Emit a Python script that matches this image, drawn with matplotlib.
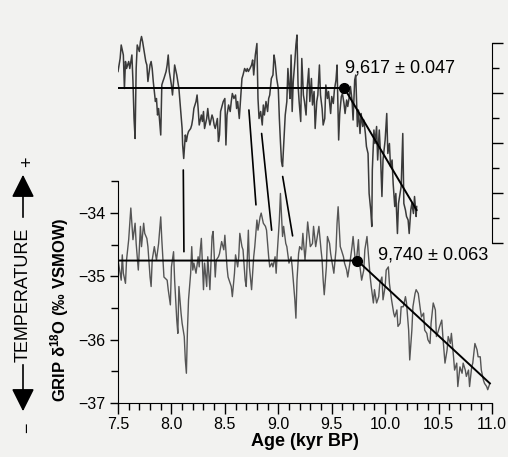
import matplotlib
matplotlib.use("Agg")
import matplotlib.pyplot as plt
from matplotlib.patches import ConnectionPatch, FancyArrowPatch
from matplotlib.ticker import MultipleLocator, FixedLocator, FormatStrFormatter

# GRIP record (lower curve), age in kyr BP, d18O in permil
low_age = [7.50, 7.53, 7.54, 7.55, 7.57, 7.58, 7.60, 7.62, 7.64, 7.66, 7.67, 7.69, 7.71, 7.72, 7.74,
           7.75, 7.77, 7.78, 7.80, 7.81, 7.82, 7.84, 7.86, 7.88, 7.90, 7.91, 7.93, 7.96, 7.97, 7.99,
           8.00, 8.02, 8.03, 8.05, 8.06, 8.07, 8.09, 8.10, 8.12, 8.13, 8.14, 8.15, 8.16, 8.18, 8.19,
           8.20, 8.21, 8.23, 8.25, 8.26, 8.27, 8.28, 8.30, 8.31, 8.33, 8.34, 8.36, 8.38, 8.39, 8.41,
           8.42, 8.44, 8.45, 8.47, 8.49, 8.50, 8.52, 8.53, 8.55, 8.56, 8.57, 8.59, 8.60, 8.62,
           8.63, 8.64, 8.66, 8.67, 8.69, 8.70, 8.72, 8.73, 8.75, 8.77, 8.78, 8.80, 8.81, 8.83, 8.84,
           8.86, 8.88, 8.89, 8.91, 8.92, 8.94, 8.95, 8.97, 8.98, 8.99, 9.01, 9.02, 9.04, 9.05, 9.07,
           9.08, 9.10, 9.12, 9.13, 9.14, 9.155, 9.165, 9.175, 9.19, 9.20, 9.22, 9.23, 9.25, 9.26, 9.275,
           9.29, 9.30, 9.32, 9.33, 9.35, 9.36, 9.38, 9.40, 9.41, 9.42, 9.43, 9.45, 9.46, 9.48, 9.49,
           9.51, 9.52, 9.54, 9.55, 9.56, 9.58, 9.59, 9.61, 9.62, 9.64, 9.65, 9.67, 9.69, 9.70, 9.72,
           9.73, 9.75, 9.76, 9.78, 9.80, 9.81, 9.83, 9.84, 9.86, 9.87, 9.89, 9.90, 9.92, 9.94, 9.95,
           9.97, 9.98, 10.00, 10.01, 10.03, 10.04, 10.06, 10.08, 10.09, 10.11, 10.12, 10.14, 10.15, 10.17, 10.19,
           10.20, 10.22, 10.23, 10.25, 10.26, 10.28, 10.29, 10.31, 10.33, 10.34, 10.36, 10.37, 10.39, 10.40, 10.42,
           10.43, 10.45, 10.47, 10.48, 10.50, 10.51, 10.53, 10.54, 10.56, 10.58, 10.59, 10.61, 10.62, 10.64, 10.65,
           10.67, 10.68, 10.70, 10.72, 10.73, 10.75, 10.76, 10.78, 10.79, 10.81, 10.82, 10.84, 10.86, 10.87, 10.89,
           10.90, 10.92, 10.93, 10.95, 10.96, 10.98]
low_d18o = [-34.74, -35.06, -34.66, -34.95, -35.11, -34.74, -34.42, -33.92, -34.42, -34.16, -34.48, -34.90, -34.21, -34.53, -34.16,
            -34.32, -34.40, -34.53, -35.01, -35.16, -34.74, -34.53, -34.74, -34.48, -34.06, -34.42, -35.01, -35.06, -35.21, -35.45,
            -34.85, -34.61, -35.06, -35.69, -35.90, -35.16, -35.58, -35.74, -35.95, -36.32, -36.53, -35.85, -35.37, -34.95, -34.53,
            -34.90, -34.79, -34.95, -34.69, -34.85, -34.58, -34.40, -35.21, -34.79, -35.16, -34.69, -35.21, -34.37, -34.29, -35.01,
            -34.74, -34.69, -34.64, -34.45, -34.58, -34.35, -34.85, -35.01, -35.11, -35.16, -35.32, -34.95, -34.66, -34.85,
            -34.69, -34.32, -34.53, -34.58, -35.06, -35.16, -34.27, -34.85, -35.21, -34.69, -34.53, -34.11, -34.27, -34.06, -34.00,
            -34.16, -34.21, -34.27, -34.69, -34.85, -34.79, -34.85, -34.69, -34.95, -34.64, -34.11, -33.69, -34.37, -34.21, -34.48,
            -34.53, -34.79, -34.69, -34.85, -35.06, -35.37, -35.66, -35.06, -34.64, -34.53, -34.58, -34.32, -34.74, -34.53, -34.14,
            -34.37, -34.53, -34.48, -34.21, -34.53, -34.42, -34.21, -34.58, -34.74, -35.06, -35.29, -34.85, -34.37, -34.48, -34.64,
            -34.85, -34.95, -34.58, -34.16, -33.90, -34.53, -34.58, -34.69, -34.79, -34.90, -35.01, -34.79, -34.53, -34.37, -34.74,
            -34.77, -34.42, -34.79, -35.06, -34.90, -34.58, -34.37, -34.58, -35.01, -35.16, -35.42, -35.21, -35.42, -35.32, -35.11,
            -35.01, -35.37, -35.16, -34.90, -34.85, -35.11, -35.37, -35.58, -35.64, -35.53, -35.79, -35.74, -35.48, -35.48, -35.32,
            -35.42, -35.85, -36.32, -35.85, -35.48, -35.27, -35.21, -35.27, -35.53, -35.64, -35.58, -35.85, -35.90, -36.00, -36.06,
            -35.74, -35.42, -35.53, -35.95, -35.85, -35.79, -35.69, -35.95, -36.37, -36.16, -35.95, -36.06, -35.90, -36.27, -36.48,
            -36.37, -36.74, -36.43, -36.53, -36.37, -36.48, -36.58, -36.48, -36.74, -36.43, -36.37, -36.06, -36.16, -36.27, -36.27,
            -36.48, -36.64, -36.69, -36.74, -36.79, -36.69]

# upper record (right axis, its labels are cut off in the original)
up_age = [7.50, 7.52, 7.53, 7.55, 7.56, 7.57, 7.58, 7.60, 7.61, 7.63, 7.64, 7.65, 7.66, 7.67, 7.68,
          7.70, 7.71, 7.72, 7.73, 7.75, 7.76, 7.77, 7.78, 7.80, 7.81, 7.82, 7.83, 7.85, 7.86, 7.87,
          7.88, 7.90, 7.91, 7.92, 7.93, 7.95, 7.96, 7.97, 7.98, 8.00, 8.01, 8.02, 8.03, 8.05, 8.06,
          8.07, 8.08, 8.10, 8.105, 8.115, 8.13, 8.14, 8.15, 8.16, 8.18, 8.19, 8.20, 8.21, 8.23, 8.24,
          8.25, 8.26, 8.28, 8.29, 8.30, 8.31, 8.33, 8.34, 8.35, 8.36, 8.38, 8.39, 8.40, 8.41, 8.43,
          8.44, 8.45, 8.46,
          8.485, 8.50, 8.51, 8.52, 8.535, 8.55, 8.56, 8.57, 8.585, 8.60, 8.61, 8.62, 8.635, 8.65, 8.66,
          8.67, 8.685, 8.70, 8.71, 8.72, 8.735, 8.75, 8.76, 8.77, 8.785, 8.80, 8.81, 8.82, 8.835, 8.85,
          8.86, 8.87, 8.885, 8.90, 8.91, 8.92, 8.935, 8.95, 8.96, 8.97, 8.985, 9.00, 9.01, 9.02, 9.03,
          9.04, 9.055, 9.065, 9.08, 9.09, 9.10, 9.11, 9.12, 9.13, 9.14, 9.155, 9.165, 9.175, 9.185, 9.195,
          9.21, 9.22, 9.235, 9.245, 9.26, 9.27, 9.285, 9.295, 9.31, 9.32, 9.335, 9.345, 9.36, 9.37, 9.385,
          9.395, 9.41, 9.42, 9.435, 9.445, 9.46, 9.47,
          9.49, 9.50, 9.515, 9.525, 9.54, 9.55, 9.565, 9.575, 9.59, 9.60, 9.615, 9.625, 9.64, 9.65, 9.665,
          9.675, 9.69, 9.70, 9.715, 9.725, 9.74, 9.75, 9.765, 9.775, 9.79, 9.80, 9.815, 9.825, 9.84, 9.85,
          9.865, 9.875, 9.88, 9.895, 9.905, 9.92, 9.93, 9.945, 9.955, 9.97, 9.98, 10.00, 10.015, 10.025, 10.04,
          10.05, 10.065, 10.075, 10.09, 10.10, 10.115, 10.125, 10.14, 10.15, 10.165, 10.175, 10.19, 10.20, 10.215, 10.225,
          10.24, 10.25, 10.265, 10.275, 10.29, 10.295]
up_val = [-34.57, -34.31, -34.04, -34.24, -34.91, -34.37, -34.51, -34.37, -34.51, -34.24, -34.77, -35.51, -35.91, -34.51, -34.04,
          -34.17, -33.97, -33.87, -33.97, -34.24, -34.37, -34.44, -34.77, -34.44, -34.37, -34.51, -34.77, -35.17, -35.11, -35.44,
          -35.31, -35.84, -34.84, -34.77, -34.71, -34.57, -34.44, -34.24, -34.57, -34.84, -35.04, -34.77, -34.44, -34.64, -34.77,
          -34.91, -35.17, -35.71, -36.04, -36.31, -35.84, -35.97, -35.84, -35.77, -35.71, -35.64, -35.51, -35.31, -35.17, -35.04,
          -35.31, -35.64, -35.44, -35.57, -35.37, -35.71, -35.51, -35.31, -35.51, -35.64, -35.44, -35.51, -35.64, -35.71, -35.51,
          -35.97, -35.84, -35.37,
          -35.17, -35.11, -36.04, -35.44, -35.24, -35.37, -35.17, -35.01, -35.11, -35.04, -35.31, -35.17, -35.51, -35.04, -34.71,
          -34.64, -34.51, -34.57, -34.51, -34.57, -34.51, -34.44, -34.34, -34.64, -34.24, -34.01, -35.11, -35.51, -35.37, -35.64,
          -35.24, -35.44, -35.17, -35.37, -35.11, -35.04, -34.71, -34.64, -34.24, -34.37, -34.71, -34.91, -35.51, -35.97, -36.37,
          -36.47, -35.84, -35.44, -35.17, -34.51, -34.84, -35.11, -34.24, -35.37, -34.77, -34.37, -34.04, -33.84, -34.84, -35.17,
          -35.57, -34.31, -35.04, -35.17, -35.44, -34.91, -34.51, -35.17, -34.71, -35.24, -34.97, -35.71, -35.17, -35.04, -34.44,
          -35.04, -35.31, -35.64, -35.51, -34.84, -35.11, -34.97,
          -35.41, -35.07, -35.21, -34.94, -34.74, -34.44, -35.94, -35.41, -35.07, -35.01, -35.21, -35.41, -35.14, -35.27, -35.07,
          -34.87, -35.14, -35.54, -34.74, -34.64, -35.67, -35.34, -35.81, -35.41, -35.67, -35.54, -35.81, -36.07, -36.21, -37.01,
          -37.34, -37.67, -36.54, -35.74, -36.01, -35.67, -36.34, -35.74, -36.14, -37.07, -36.34, -35.94, -35.41, -36.21, -36.01,
          -36.47, -36.34, -36.81, -37.27, -37.01, -37.81, -37.21, -37.01, -36.87, -35.81, -37.21, -37.34, -37.47, -37.54, -37.81,
          -37.34, -37.21, -37.41, -37.07, -37.47, -37.27]

# breakpoint fits
low_fit_age = [7.5, 9.740, 10.98]
low_fit_val = [-34.75, -34.75, -36.69]
up_fit_age = [7.5, 9.617, 10.294]
up_fit_val = [-34.90, -34.90, -37.34]

# tie points: (age, value) on upper record -> (age, value) on GRIP
tie_up = [(8.111, -36.54), (8.725, -35.34), (8.844, -35.81), (9.041, -36.67)]
tie_low = [(8.117, -34.61), (8.791, -33.87), (8.938, -34.27), (9.134, -34.36)]

bg = "#f2f2f0"
plt.rcParams["font.family"] = ["Liberation Sans", "DejaVu Sans"]
plt.rcParams["mathtext.fontset"] = "custom"
plt.rcParams["mathtext.rm"] = "Liberation Sans:bold"

fig = plt.figure(figsize=(5.08, 4.57), dpi=100, facecolor=bg)
ax = fig.add_axes([118 / 508, 54 / 457, 374 / 508, 383 / 457])
ax.set_facecolor("none")
ax2 = ax.twinx()
ax2.set_facecolor("none")

ax.plot(low_age, low_d18o, color="#555555", lw=1.0)
ax.plot(low_fit_age, low_fit_val, color="black", lw=1.4)
ax.plot(low_fit_age[1], low_fit_val[1], "o", color="black", ms=7)
ax.text(9.93, -34.66, "9,740 \u00b1 0.063", fontsize=13, va="center", ha="left")

ax2.plot(up_age, up_val, color="#3a3a3a", lw=1.1)
ax2.plot(up_fit_age, up_fit_val, color="black", lw=1.4)
ax2.plot(up_fit_age[1], up_fit_val[1], "o", color="black", ms=7)
ax2.text(9.625, -34.5, "9,617 \u00b1 0.047", fontsize=13, va="center", ha="left")

for a, b in zip(tie_up, tie_low):
    con = ConnectionPatch(xyA=a, coordsA=ax2.transData, xyB=b, coordsB=ax.transData,
                          color="black", lw=1.2)
    fig.add_artist(con)

# lower axes
ax.set_xlim(7.5, 11.0)
ax.set_ylim(-37, -30.95)
for s in ["top", "right"]:
    ax.spines[s].set_visible(False)
ax.spines["left"].set_bounds(-37, -33.5)
ax.xaxis.set_major_locator(MultipleLocator(0.5))
ax.xaxis.set_minor_locator(MultipleLocator(0.1))
ax.xaxis.set_major_formatter(FormatStrFormatter("%.1f"))
ax.yaxis.set_major_locator(FixedLocator([-37, -36, -35, -34]))
ax.yaxis.set_minor_locator(FixedLocator([-36.5, -35.5, -34.5, -33.5]))
ax.tick_params(axis="x", which="major", length=8, width=1, labelsize=11.5, pad=2)
ax.tick_params(axis="x", which="minor", length=5, width=1)
ax.tick_params(axis="y", which="major", length=6, width=1, labelsize=11.5, pad=3)
ax.tick_params(axis="y", which="minor", length=5, width=1)
ax.set_xlabel("Age (kyr BP)", fontsize=13, fontweight="bold", labelpad=1)

# upper axes (right), tick labels fall outside the picture
ax2.set_ylim(-41.2, -33.54)
for s in ["top", "left", "bottom"]:
    ax2.spines[s].set_visible(False)
ax2.spines["right"].set_bounds(-38, -34)
ax2.yaxis.set_major_locator(FixedLocator([-38, -37, -36, -35, -34]))
ax2.yaxis.set_minor_locator(FixedLocator([-37.5, -36.5, -35.5, -34.5]))
ax2.tick_params(axis="y", which="major", length=8, width=1, labelright=False)
ax2.tick_params(axis="y", which="minor", length=5, width=1)

fig.text(60 / 508, 1 - 310 / 457, r"GRIP $\mathregular{\delta^{18}}$O (‰ VSMOW)",
         rotation=90, ha="center", va="center", fontsize=12, fontweight="bold")

# temperature arrow label
fig.text(23 / 508, 1 - 295 / 457, "TEMPERATURE", rotation=90, ha="center", va="center", fontsize=13)
arrow = dict(arrowstyle="-|>,head_length=0.7,head_width=0.35", color="black", lw=1.2, mutation_scale=20)
fig.add_artist(FancyArrowPatch((23 / 508, 1 - 220 / 457), (23 / 508, 1 - 172 / 457),
                               transform=fig.transFigure, **arrow))
fig.add_artist(FancyArrowPatch((23 / 508, 1 - 362 / 457), (23 / 508, 1 - 414 / 457),
                               transform=fig.transFigure, **arrow))
fig.text(28 / 508, 1 - 162 / 457, "+", rotation=90, ha="center", va="center", fontsize=13)
fig.text(28 / 508, 1 - 428 / 457, "\u2212", rotation=90, ha="center", va="center", fontsize=13)

fig.savefig("out.png", dpi=100, facecolor=bg)
